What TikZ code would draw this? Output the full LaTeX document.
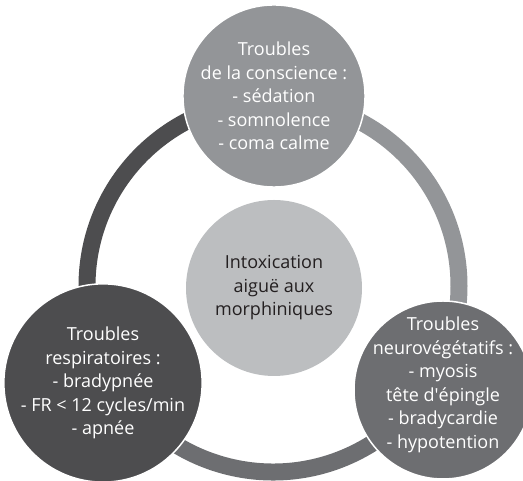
\documentclass[tikz,border=0pt]{standalone}
\usepackage{fontspec}
\setmainfont{Open Sans}
\definecolor{leftgray}{RGB}{77,77,79}
\definecolor{topgray}{RGB}{147,149,152}
\definecolor{rightgray}{RGB}{109,110,113}
\definecolor{midgray}{RGB}{188,190,192}
\definecolor{ink}{RGB}{35,31,32}
\begin{document}
\begin{tikzpicture}[x=1pt,y=1pt]
	\tikzstyle{Bubble} = [circle, minimum size=176pt, inner sep=0pt, align=center, draw=white, line width=1.5pt, text=white, font=\fontsize{18}{23.5}\selectfont]
	\tikzstyle{Words} = [align=center, text=white, font=\fontsize{18}{23.5}\selectfont]
	\tikzstyle{ring} = [line width=17pt]
	
	\useasboundingbox (0,0) rectangle (523,481);
	\coordinate (o) at (273,195);
	
	% the ring, one arc per colour
	\draw [ring, leftgray] (o) ++(90:186) arc [start angle=90, end angle=210, radius=186];
	\draw [ring, topgray] (o) ++(90:186) arc [start angle=90, end angle=-30, radius=186];
	\draw [ring, rightgray] (o) ++(210:186) arc [start angle=210, end angle=330, radius=186];
	
	\node (cons) [Bubble, fill=topgray] at (274,385) {Troubles\\de la conscience :\\- sédation\\- somnolence\\- coma calme};
	\node (resp) [Bubble, fill=leftgray] at (103,98) {Troubles\\respiratoires :\\- bradypnée\\- FR < 12 cycles/min\\- apnée};
	\node (neuro) [Bubble, fill=rightgray, minimum size=178pt, label={[Words, yshift=5pt]center:{Troubles\\neurovégétatifs :\\- myosis\\tête d\textquotesingle épingle\\- bradycardie\\- hypotention}}] at (443,91) {};
	\node (intox) [Bubble, fill=midgray, draw=none, text=ink] at (274,193) {Intoxication\\aiguë aux\\morphiniques};
\end{tikzpicture}
\end{document}
